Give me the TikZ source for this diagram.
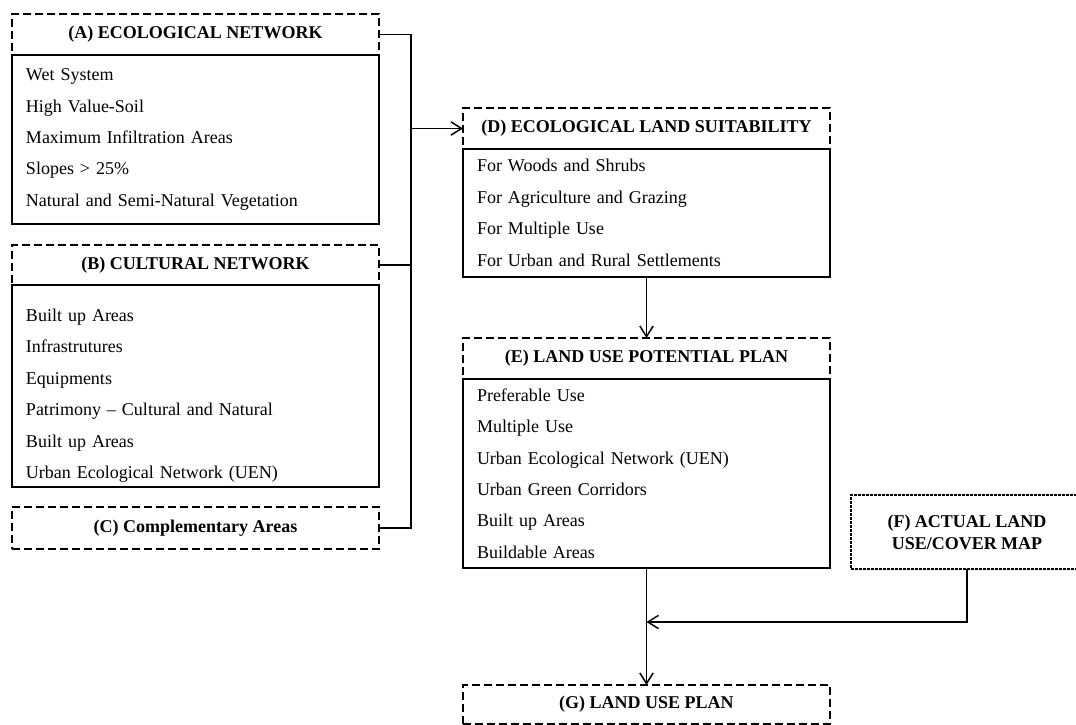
\documentclass[tikz,border=0pt]{standalone}
\usepackage{fontspec}
\setmainfont{Liberation Serif}
\usetikzlibrary{positioning,arrows.meta}

\begin{document}
\begin{tikzpicture}[x=0.75pt, y=-0.75pt,
    head/.style = {draw, line width=1.9pt, dash pattern=on 6pt off 3pt,
      minimum width=275.25pt, minimum height=30.75pt, inner sep=0pt,
      outer sep=0pt, font=\fontsize{13.5}{16}\selectfont\bfseries},
    body/.style = {draw, line width=1.1pt, minimum width=275.25pt,
      text width=254.25pt, align=left, inner xsep=10.5pt, inner ysep=0pt,
      outer sep=0pt, font=\fontsize{13.5}{23.6}\selectfont},
    mapbox/.style = {draw, line width=0.9pt, dash pattern=on 2pt off 1pt,
      minimum width=174pt, minimum height=55.5pt, align=center,
      outer sep=0pt, font=\fontsize{13.5}{16.5}\selectfont\bfseries},
    link/.style = {line width=1.1pt},
    >={Straight Barb[length=8pt,width=10pt]}]
  \useasboundingbox (0,0) rectangle (1076,725);

  % left column
  \node[head, anchor=north west] (Ahead) at (12,14) {(A) ECOLOGICAL NETWORK};
  \node[body, minimum height=126.75pt, below=0pt of Ahead] (Abody)
    {Wet System\\High Value-Soil\\Maximum Infiltration Areas\\Slopes > 25\%\\Natural and Semi-Natural Vegetation};
  \node[head, minimum height=30pt, below=15.75pt of Abody] (Bhead) {(B) CULTURAL NETWORK};
  \node[body, minimum height=151.5pt, below=0pt of Bhead] (Bbody)
    {\rule{0pt}{24pt}Built up Areas\\Infrastrutures\\Equipments\\Patrimony -- Cultural and Natural\\Built up Areas\\Urban Ecological Network (UEN)};
  \node[head, minimum height=31.5pt, below=15pt of Bbody] (Chead) {(C) Complementary Areas};

  % right column
  \node[head, anchor=north west] (Dhead) at (463,108) {(D) ECOLOGICAL LAND SUITABILITY};
  \node[body, minimum height=96pt, below=0pt of Dhead] (Dbody)
    {For Woods and Shrubs\\For Agriculture and Grazing\\For Multiple Use\\For Urban and Rural Settlements};
  \node[head, below=45.75pt of Dbody] (Ehead) {(E) LAND USE POTENTIAL PLAN};
  \node[body, minimum height=141.75pt, below=0pt of Ehead] (Ebody)
    {Preferable Use\\Multiple Use\\Urban Ecological Network (UEN)\\Urban Green Corridors\\Built up Areas\\Buildable Areas};
  \node[head, minimum height=29.25pt, below=87.75pt of Ebody] (Ghead) {(G) LAND USE PLAN};
  \node[mapbox, anchor=north west] (F) at (851,495) {(F) ACTUAL LAND\\USE/COVER MAP};

  \coordinate (trunk) at (411,0);
  \coordinate (merge) at ([yshift=-40.5pt]Ebody.south);

  \draw[link] (Ahead.east) -| (trunk |- Chead.east) -- (Chead.east);
  \draw[link] (Bhead.east) -- (trunk |- Bhead.east);
  \draw[link, ->] (trunk |- Dhead.west) -- (Dhead.west);
  \draw[link, ->] (Dbody.south) -- (Ehead.north);
  \draw[link, ->] (Ebody.south) -- (Ghead.north);
  \draw[link, ->] (F.south) |- (merge);
\end{tikzpicture}
\end{document}
